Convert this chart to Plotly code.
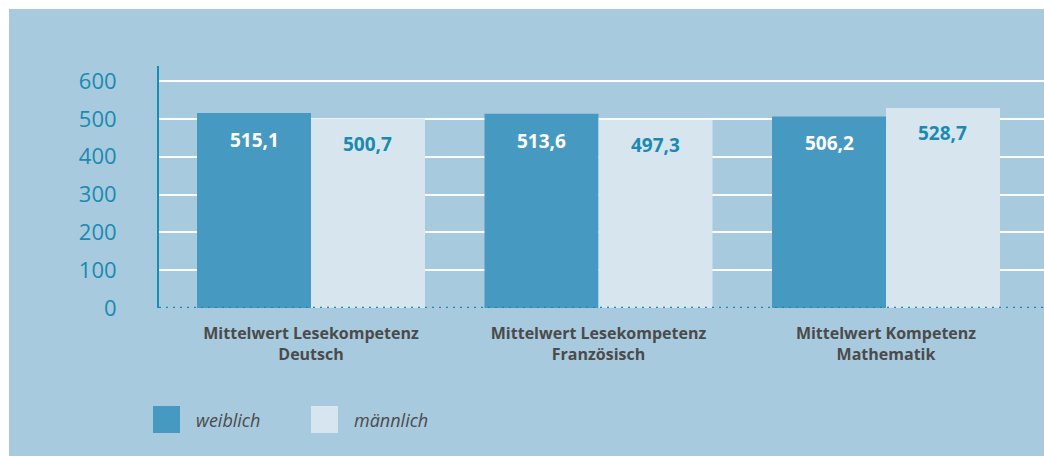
import plotly.graph_objects as go

categories = ["Mittelwert Lesekompetenz<br>Deutsch",
              "Mittelwert Lesekompetenz<br>Französisch",
              "Mittelwert Kompetenz<br>Mathematik"]
weiblich = [515.1, 513.6, 506.2]
maennlich = [500.7, 497.3, 528.7]
series_names = ["weiblich", "männlich"]
y_ticks = [0, 100, 200, 300, 400, 500, 600]

BG = "#a8cadf"
C_W = "#4699c0"
C_M = "#d7e5ef"
TEAL = "#1a8aaf"
GRAY = "#4b4b4b"
FONT = "Open Sans"

W, H = 1044, 456
ML, MR, MT, MB = 159, 0, 66, 148
pw, ph = W - ML - MR, H - MT - MB
px_per_unit = 227 / 600
cat_px = 287.5

def fmt(v):
    return f"{v:.1f}".replace(".", ",")

fig = go.Figure()
fig.add_trace(go.Bar(x=categories, y=weiblich, name=series_names[0], marker=dict(color=C_W, line=dict(width=0)),
                     hoverinfo="skip"))
fig.add_trace(go.Bar(x=categories, y=maennlich, name=series_names[1], marker=dict(color=C_M, line=dict(width=0)),
                     hoverinfo="skip"))

ann = []
for i, c in enumerate(categories):
    ann.append(dict(x=i - 0.198, y=weiblich[i], xref="x", yref="y", text=fmt(weiblich[i]),
                    showarrow=False, yanchor="middle", yshift=-27,
                    font=dict(family=FONT, size=19, color="white", weight="bold")))
    ann.append(dict(x=i + 0.198, y=maennlich[i], xref="x", yref="y", text=fmt(maennlich[i]),
                    showarrow=False, yanchor="middle", yshift=-25,
                    font=dict(family=FONT, size=19, color=TEAL, weight="bold")))

def px2x(p):
    return (p - ML) / pw

def py2y(p):
    return (MT + ph - p) / ph

shapes = [
    # white page border at top and left
    dict(type="rect", xref="paper", yref="paper", x0=px2x(-5), x1=px2x(W + 5), y0=py2y(9), y1=py2y(-5),
         fillcolor="white", line=dict(width=0), layer="above"),
    dict(type="rect", xref="paper", yref="paper", x0=px2x(-5), x1=px2x(9), y0=py2y(H + 5), y1=py2y(-5),
         fillcolor="white", line=dict(width=0), layer="above"),
    dict(type="line", xref="paper", yref="y", x0=0, x1=1, y0=0, y1=0,
         line=dict(color=TEAL, width=2.5, dash="2px,5px"), layer="above"),
]

legend_items = [(153, C_W, series_names[0]), (311, C_M, series_names[1])]
for x0, col, name in legend_items:
    shapes.append(dict(type="rect", xref="paper", yref="paper", x0=px2x(x0), x1=px2x(x0 + 27),
                       y0=py2y(433), y1=py2y(406), fillcolor=col, line=dict(width=0)))
    ann.append(dict(x=px2x(x0 + 41), y=py2y(419.5), xref="paper", yref="paper", text=name,
                    showarrow=False, xanchor="left", yanchor="middle",
                    font=dict(family=FONT, size=18, color=GRAY, style="italic")))

fig.update_layout(
    width=W, height=H,
    margin=dict(l=ML, r=MR, t=MT, b=MB, pad=0),
    paper_bgcolor=BG, plot_bgcolor=BG,
    barmode="group", bargap=0.207, bargroupgap=0,
    showlegend=False, hovermode=False,
    shapes=shapes, annotations=ann,
    xaxis=dict(range=[-152 / cat_px, -152 / cat_px + pw / cat_px], showgrid=False, showline=False,
               zeroline=False, ticks="", ticklabelstandoff=14,
               tickfont=dict(family=FONT, size=16, color=GRAY, weight="bold")),
    yaxis=dict(range=[0, ph / px_per_unit], tickvals=y_ticks, showgrid=True, gridcolor="white",
               gridwidth=2, zeroline=False, showline=True, linecolor="#1b8db3", linewidth=2,
               ticks="", ticklabelstandoff=36,
               tickfont=dict(family=FONT, size=22, color=TEAL)),
)

fig.write_html("out.html", config={"displayModeBar": False},
               post_script="document.body.style.margin='0';document.documentElement.style.overflow='hidden';document.body.style.overflow='hidden';")
